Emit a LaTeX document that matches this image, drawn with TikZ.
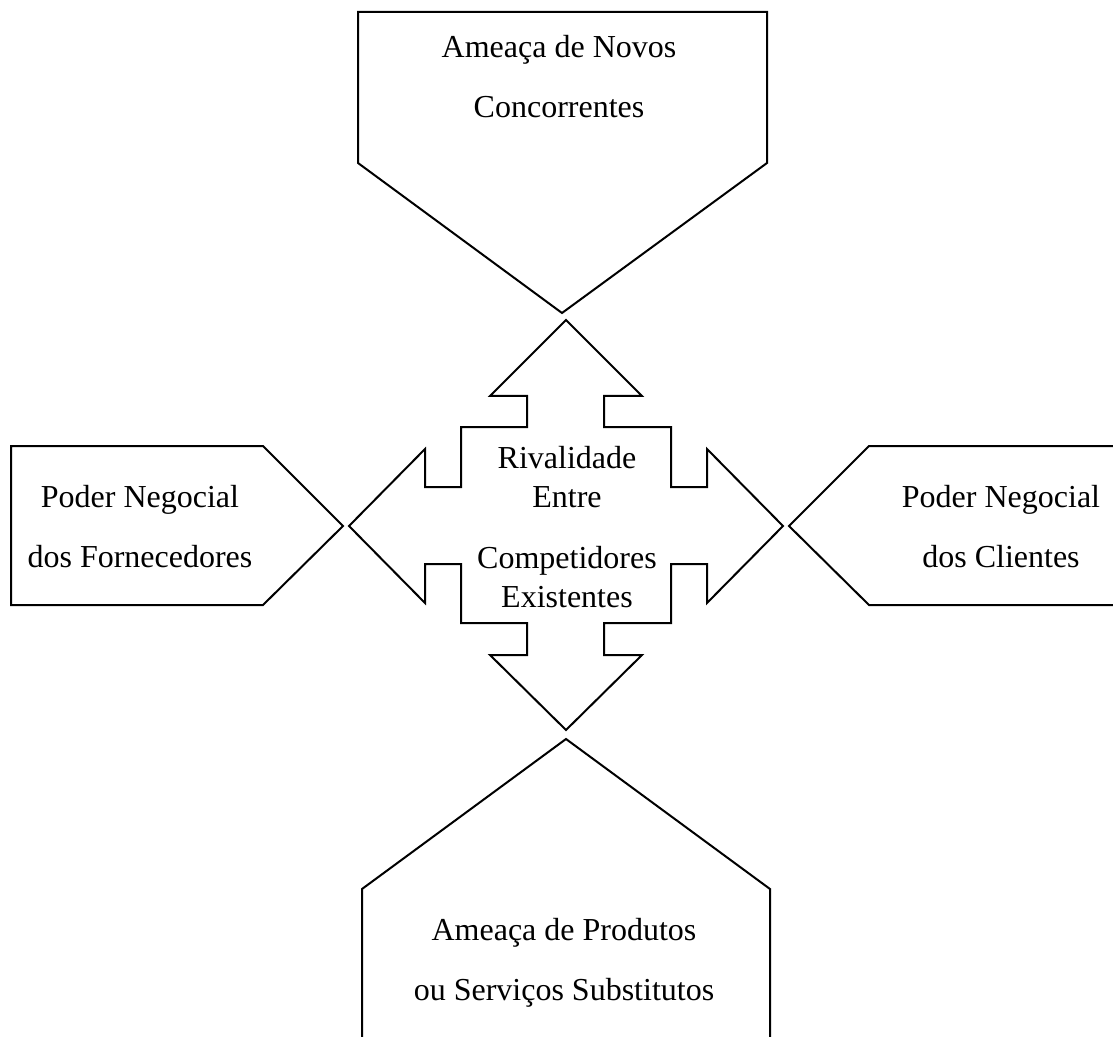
\documentclass[tikz,border=0pt]{standalone}
\usepackage{fontspec}
\setmainfont{Liberation Serif}
\usepackage{tikz}
\usetikzlibrary{positioning}

\begin{document}
\begin{tikzpicture}[x=0.5pt, y=-0.5pt, line width=1pt,
    forca/.style={align=center, font=\fontsize{16}{30}\selectfont},
    rival/.style={align=center, font=\fontsize{16}{19.5}\selectfont}]
    \useasboundingbox (0,0) rectangle (1113,1037);

    % the four forces
    \draw (358,12) -- (767,12) -- (767,163) -- (562,313) -- (358,163) -- cycle;
    \draw (566,739) -- (770,889) -- (770,1050) -- (362,1050) -- (362,889) -- cycle;
    \draw (11,446) -- (263,446) -- (343,526) -- (263,605) -- (11,605) -- cycle;
    \draw (789,526) -- (869,446) -- (1125,446) -- (1125,605) -- (869,605) -- cycle;

    % central cross
    \draw (566,320) -- (642,396) -- (604,396) -- (604,427) -- (671,427) -- (671,487)
        -- (707,487) -- (707,449) -- (783,526) -- (707,603) -- (707,564) -- (671,564)
        -- (671,623) -- (604,623) -- (604,655) -- (642,655) -- (566,730) -- (490,655)
        -- (527,655) -- (527,623) -- (461,623) -- (461,564) -- (425,564) -- (425,603)
        -- (349,526) -- (425,449) -- (425,487) -- (461,487) -- (461,427) -- (527,427)
        -- (527,396) -- (490,396) -- cycle;

    \node[forca] (novos) at (559, 77) {Ameaça de Novos\\Concorrentes};
    \node[forca] (subst) at (564, 963) {Ameaça de Produtos\\ou Serviços Substitutos};
    \node[forca] (fornec) at (140, 527) {Poder Negocial\\dos Fornecedores};
    \node[forca] (clientes) at (1001, 527) {Poder Negocial\\dos Clientes};
    \node[rival] (rivalidade) at (567, 527) {Rivalidade\\Entre\\[11pt]Competidores\\Existentes};
\end{tikzpicture}
\end{document}
